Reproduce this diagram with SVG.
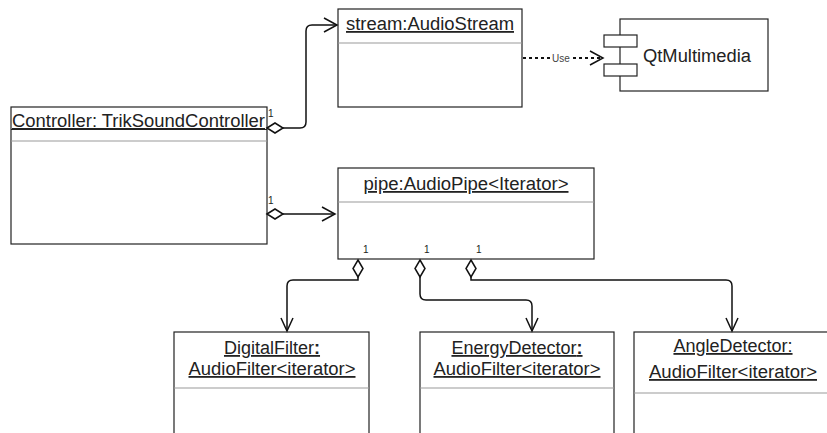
<svg xmlns="http://www.w3.org/2000/svg" width="827" height="433" viewBox="0 0 827 433">
<defs>
<style>
.box{fill:#fff;stroke:#222;stroke-width:1.2}
.sep{stroke:#999;stroke-width:1.2;fill:none}
.t{font-family:"Liberation Sans",Arial,sans-serif;font-size:18px;fill:#222;text-decoration:underline}
.tc{text-anchor:middle}
.m{font-family:"Liberation Sans",Arial,sans-serif;font-size:10px;fill:#222}
.c{fill:none;stroke:#111;stroke-width:1.5}
.d{fill:#fff;stroke:#111;stroke-width:1.5}
.dash{fill:none;stroke:#111;stroke-width:2;stroke-dasharray:3,3}
.lbl{font-family:"Liberation Sans",Arial,sans-serif;font-size:10px;fill:#444}
.plain{font-family:"Liberation Sans",Arial,sans-serif;font-size:18px;fill:#222}
</style>
</defs>
<rect width="827" height="433" fill="#fff"/>

<g id="controller">
<rect class="box" x="11" y="107" width="256" height="137"/>
<line x1="11" y1="129.5" x2="267" y2="129.5" stroke="#222" stroke-width="1.2"/>
<line class="sep" x1="11" y1="141" x2="267" y2="141"/>
<text class="t" x="12" y="127" textLength="253" lengthAdjust="spacingAndGlyphs">Controller: TrikSoundController</text>
</g>

<g id="stream">
<rect class="box" x="338" y="9" width="184" height="98"/>
<line class="sep" x1="338" y1="43" x2="522" y2="43"/>
<text class="t tc" x="430" y="30" textLength="168" lengthAdjust="spacingAndGlyphs">stream:AudioStream</text>
</g>

<g id="qtmultimedia">
<rect class="box" x="620" y="19" width="148" height="72"/>
<rect class="box" x="604" y="35" width="33" height="12"/>
<rect class="box" x="604" y="64" width="33" height="12"/>
<text class="plain" x="643" y="62" textLength="108" lengthAdjust="spacingAndGlyphs">QtMultimedia</text>
</g>

<g id="pipe">
<rect class="box" x="338" y="168" width="256" height="91"/>
<line class="sep" x1="338" y1="202" x2="594" y2="202"/>
<text class="t tc" x="466" y="190" textLength="205" lengthAdjust="spacingAndGlyphs">pipe:AudioPipe&lt;Iterator&gt;</text>
</g>

<g id="digitalfilter">
<rect class="box" x="174" y="332" width="195" height="120"/>
<line class="sep" x1="174" y1="388" x2="369" y2="388"/>
<text class="t tc" x="272" y="354">DigitalFilter<tspan font-weight="bold">:</tspan></text>
<text class="t tc" x="272" y="375" textLength="167" lengthAdjust="spacingAndGlyphs">AudioFilter&lt;iterator&gt;</text>
</g>

<g id="energydetector">
<rect class="box" x="420" y="332" width="194" height="120"/>
<line class="sep" x1="420" y1="388" x2="614" y2="388"/>
<text class="t tc" x="517" y="354">EnergyDetector<tspan font-weight="bold">:</tspan></text>
<text class="t tc" x="517" y="375" textLength="167" lengthAdjust="spacingAndGlyphs">AudioFilter&lt;iterator&gt;</text>
</g>

<g id="angledetector">
<rect class="box" x="634" y="332" width="210" height="120"/>
<line class="sep" x1="634" y1="393" x2="844" y2="393"/>
<text class="t tc" x="733" y="352">AngleDetector:</text>
<text class="t tc" x="733" y="378" textLength="168" lengthAdjust="spacingAndGlyphs">AudioFilter&lt;iterator&gt;</text>
</g>

<g id="connectors">
<!-- controller -> stream -->
<path class="c" d="M283 128 H300 Q306 128 306 122 V31 Q306 25 312 25 H337"/>
<path class="c" d="M324 18 L337 25 L324 32"/>
<path class="d" d="M267 128 L275 123 L283 128 L275 133 Z"/>
<text class="m" x="268" y="117">1</text>
<!-- controller -> pipe -->
<path class="c" d="M283 214 H335"/>
<path class="c" d="M322 207 L335 214 L322 221"/>
<path class="d" d="M267 214 L275 209 L283 214 L275 219 Z"/>
<text class="m" x="268" y="204">1</text>
<!-- stream -> qt (use) -->
<path class="dash" d="M523 58 H550"/>
<path class="dash" d="M573 58 H602"/>
<path class="c" d="M590 51 L603 58 L590 65" stroke-width="1.5"/>
<text class="lbl" x="552" y="61.5">Use</text>
<!-- pipe -> digital -->
<path class="c" d="M358 277 V280 H293 Q287 280 287 286 V331"/>
<path class="c" d="M281 318 L287 331 L293 318"/>
<path class="d" d="M358 260 L363 268.5 L358 277 L353 268.5 Z"/>
<text class="m" x="363" y="253">1</text>
<!-- pipe -> energy -->
<path class="c" d="M420 277 V294 Q420 300 426 300 H526 Q532 300 532 306 V331"/>
<path class="c" d="M526 318 L532 331 L538 318"/>
<path class="d" d="M420 260 L425 268.5 L420 277 L415 268.5 Z"/>
<text class="m" x="424" y="253">1</text>
<!-- pipe -> angle -->
<path class="c" d="M471 277 V280 H726 Q732 280 732 286 V331"/>
<path class="c" d="M726 318 L732 331 L738 318"/>
<path class="d" d="M471 260 L476 268.5 L471 277 L466 268.5 Z"/>
<text class="m" x="476" y="253">1</text>
</g>
</svg>
